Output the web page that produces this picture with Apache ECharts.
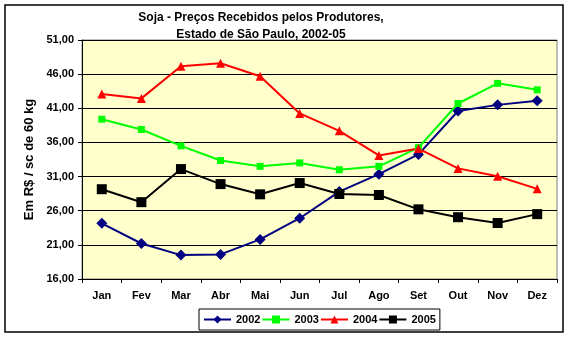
<!DOCTYPE html>
<html><head><meta charset="utf-8">
<script src="https://cdn.jsdelivr.net/npm/echarts@6/dist/echarts.min.js"></script>
<style>html,body{margin:0;padding:0;background:#fff}#c{width:573px;height:338px}</style>
</head><body><div id="c"></div>
<script>
const months = ['Jan','Fev','Mar','Abr','Mai','Jun','Jul','Ago','Set','Out','Nov','Dez'];
const s2002 = [24.15,21.2,19.5,19.6,21.8,24.9,28.8,31.35,34.25,40.6,41.5,42.1];
const s2003 = [39.4,37.9,35.5,33.35,32.5,33.0,32.0,32.5,35.25,41.7,44.65,43.7];
const s2004 = [43.1,42.45,47.15,47.6,45.7,40.25,37.7,34.1,35.1,32.2,31.05,29.2];
const s2005 = [29.15,27.25,32.1,29.9,28.4,30.05,28.45,28.3,26.2,25.05,24.2,25.5];
const yMin = 16, yMax = 51, yStep = 5;

const font = 'Liberation Sans, Arial, sans-serif';
const chart = echarts.init(document.getElementById('c'));
function ser(name, data, color, symbol, size){
  return {name, type:'line', data, symbol, symbolSize:size,
    lineStyle:{color, width:2}, itemStyle:{color}, animation:false};
}
chart.setOption({
  animation:false,
  title:{text:'Soja - Preços Recebidos pelos Produtores,\nEstado de São Paulo, 2002-05',
    left:256, top:4, textAlign:'center',
    textStyle:{fontFamily:font, fontSize:12, fontWeight:'bold', color:'#000', lineHeight:17}},
  grid:{left:82, right:16, top:40, bottom:59, show:true, backgroundColor:'#FFFFCC', borderColor:'#808080', borderWidth:1},
  xAxis:{type:'category', data:months, boundaryGap:true,
    axisLine:{lineStyle:{color:'#000', width:1}},
    axisTick:{show:true, inside:false, length:4, lineStyle:{color:'#000'}},
    axisLabel:{fontFamily:font, fontSize:11, fontWeight:'bold', color:'#000', margin:11},
    splitLine:{show:false}},
  yAxis:{type:'value', min:yMin, max:yMax, interval:yStep,
    name:'Em R$ / sc de 60 kg', nameLocation:'middle', nameGap:44,
    nameTextStyle:{fontFamily:font, fontSize:13, fontWeight:'bold', color:'#000'},
    axisLine:{show:true, lineStyle:{color:'#000'}},
    axisTick:{show:true, length:4, lineStyle:{color:'#000'}},
    axisLabel:{fontFamily:font, fontSize:11, fontWeight:'bold', color:'#000', margin:8,
      formatter:v=>v.toFixed(2).replace('.',',')},
    splitLine:{show:true, lineStyle:{color:'#000', width:1}}},
  legend:{top:309, left:199, itemWidth:27, itemHeight:10, itemGap:1,
    borderColor:'#000', borderWidth:1, padding:[5,4,5,4],
    textStyle:{fontFamily:font, fontSize:11, fontWeight:'bold', color:'#000'},
    data:['2002','2003','2004','2005']},
  series:[
    ser('2002', s2002, '#000080', 'diamond', 11),
    ser('2003', s2003, '#00FF00', 'rect', 7),
    ser('2004', s2004, '#FF0000', 'triangle', 9),
    ser('2005', s2005, '#000000', 'rect', 10)
  ],
  graphic:[{type:'rect', shape:{x:5, y:5, width:558, height:327}, style:{fill:'none', stroke:'#000', lineWidth:1.5}, silent:true}]
});
</script></body></html>
